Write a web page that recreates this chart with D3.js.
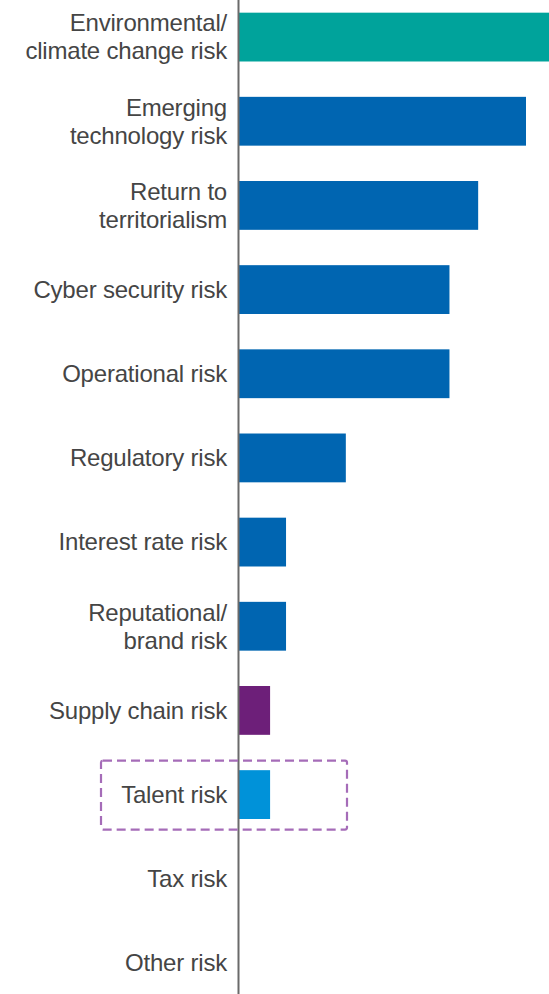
<!DOCTYPE html>
<html>
<head>
<meta charset="utf-8">
<script src="https://cdn.jsdelivr.net/npm/d3@7"></script>
<style>
  body { margin: 0; background: #fff; }
  svg { display: block; }
  .label { font-family: "Liberation Sans", Arial, sans-serif; font-size: 24px; fill: #454545; letter-spacing: -0.2px; }
</style>
</head>
<body>
<script>
// risk categories, top to bottom ("\n" = line break in label)
var categories = [
  "Environmental/\nclimate change risk",
  "Emerging\ntechnology risk",
  "Return to\nterritorialism",
  "Cyber security risk",
  "Operational risk",
  "Regulatory risk",
  "Interest rate risk",
  "Reputational/\nbrand risk",
  "Supply chain risk",
  "Talent risk",
  "Tax risk",
  "Other risk"
];

// share of respondents (%)
var values = [40, 36, 30, 26.4, 26.4, 13.4, 5.9, 5.9, 3.9, 3.9, 0, 0];

var barColors = ["#00a39b", "#0065b1", "#0065b1", "#0065b1", "#0065b1", "#0065b1",
  "#0065b1", "#0065b1", "#6d1f79", "#0092d9", "#0065b1", "#0065b1"];

var highlighted = "Talent risk";

var width = 549,
    height = 994,
    axisX = 238.5;

var data = categories.map(function(c, i) {
  return { name: c, value: values[i], color: barColors[i] };
});

var svg = d3.select("body").append("svg")
  .attr("width", width)
  .attr("height", height);

var x = d3.scaleLinear()
  .domain([0, 36])
  .range([axisX + 0.5, 526]);

var y = d3.scaleBand()
  .domain(categories)
  .range([-5, 1005])
  .paddingInner(0.42)
  .paddingOuter(0.21);

// bars
svg.selectAll(".bar")
  .data(data)
  .enter().append("rect")
  .attr("class", "bar")
  .attr("x", x(0))
  .attr("y", function(d) { return y(d.name); })
  .attr("width", function(d) { return x(d.value) - x(0); })
  .attr("height", y.bandwidth())
  .attr("fill", function(d) { return d.color; });

// category labels
var labels = svg.selectAll(".label")
  .data(data)
  .enter().append("text")
  .attr("class", "label")
  .attr("text-anchor", "end")
  .attr("transform", function(d) {
    return "translate(227," + (y(d.name) + y.bandwidth() / 2) + ")";
  });

labels.each(function(d) {
  var lines = d.name.split("\n");
  var t = d3.select(this);
  var lh = 28;
  lines.forEach(function(l, i) {
    t.append("tspan")
      .attr("x", 0)
      .attr("y", (i - (lines.length - 1) / 2) * lh)
      .attr("dy", "0.35em")
      .text(l);
  });
});

// vertical baseline
svg.append("line")
  .attr("x1", axisX).attr("x2", axisX)
  .attr("y1", 0).attr("y2", height)
  .attr("stroke", "#6a6a6a")
  .attr("stroke-width", 2);

// dashed highlight box round the talent row
var cy = y(highlighted) + y.bandwidth() / 2;
svg.append("rect")
  .attr("x", 101)
  .attr("y", cy - 34)
  .attr("width", 246)
  .attr("height", 69)
  .attr("rx", 2)
  .attr("fill", "none")
  .attr("stroke", "#a56cb8")
  .attr("stroke-width", 2.2)
  .attr("stroke-dasharray", "9,5");
</script>
</body>
</html>
